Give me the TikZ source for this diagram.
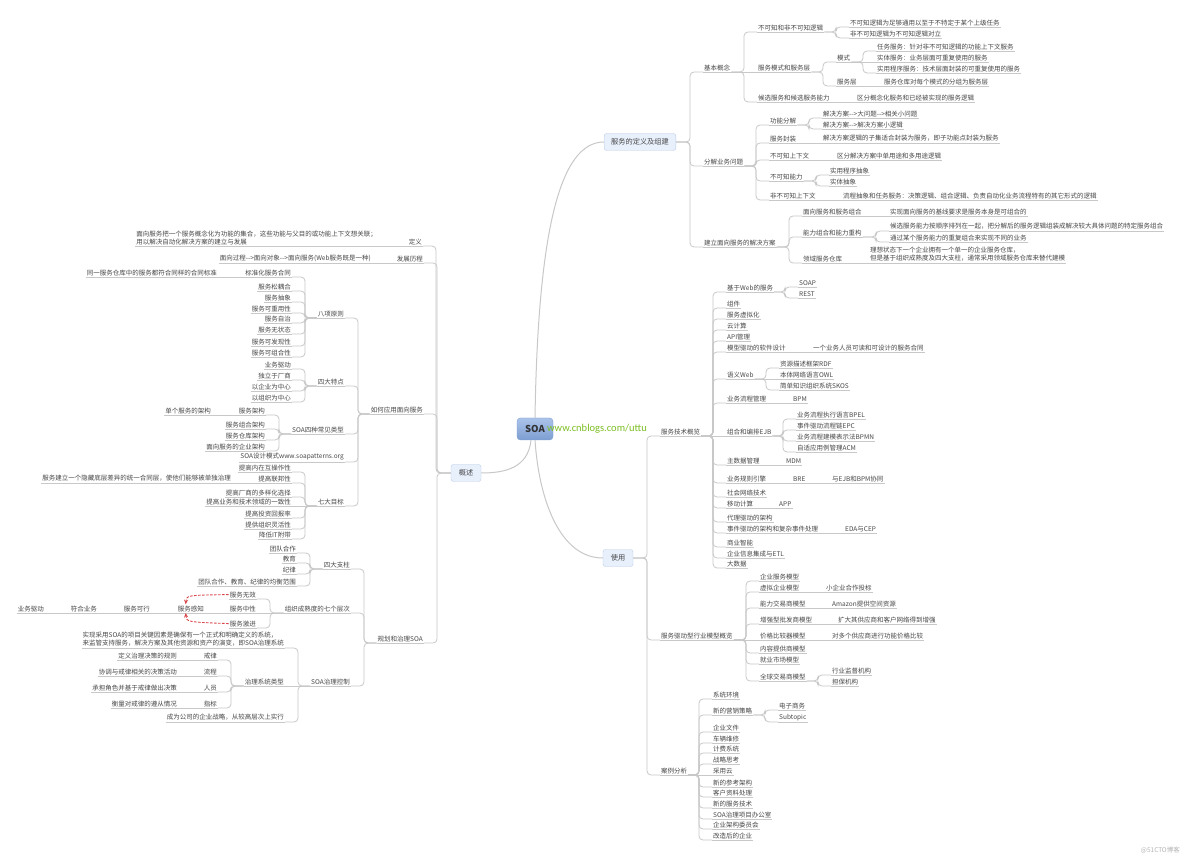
\documentclass[tikz,border=0pt]{standalone}
\usepackage{fontspec}
\setmainfont{Noto Sans CJK SC}
\newfontfamily\urlfont{Carlito}
\usetikzlibrary{calc,arrows.meta}
\definecolor{txtc}{HTML}{474747}
\definecolor{linec}{HTML}{C8C8C8}
\definecolor{boxf}{HTML}{E8F0FC}
\definecolor{boxb}{HTML}{BCCDE6}
\definecolor{redc}{HTML}{D9474B}
\definecolor{urlc}{RGB}{125,190,35}
\definecolor{rtop}{HTML}{ABC3E9}
\definecolor{rbot}{HTML}{7D9ED2}
\definecolor{wmc}{HTML}{B4B4B4}
\tikzset{
  uline/.style={draw=linec, line width=0.8pt},
  tx/.style={font=\fontsize{6.5}{8}\selectfont, text=txtc, inner xsep=1pt, inner ysep=1.2pt,
    append after command={(\tikzlastnode.south west) edge[uline] (\tikzlastnode.south east)}},
  rt/.style={tx, anchor=south west},
  lt/.style={tx, anchor=south east},
  conn/.style={draw=linec, line width=0.8pt, rounded corners=4pt},
  curv/.style={draw=linec, line width=1pt},
  mbox/.style={draw=boxb, fill=boxf, rounded corners=2.5pt, font=\fontsize{7.2}{8}\selectfont,
    text=txtc, minimum height=17pt, minimum width=30pt, inner xsep=7pt, inner ysep=0pt},
  rootbox/.style={draw=rbot, top color=rtop, bottom color=rbot, rounded corners=3.5pt,
    minimum width=36pt, minimum height=22pt, font=\fontsize{9.5}{10}\selectfont\bfseries,
    text={black!80}},
  redarr/.style={draw=redc, dash pattern=on 2.5pt off 1.5pt, line width=0.9pt,
    -{Stealth[length=4.5pt,width=4pt]}}
}
\newcommand\NR[4]{\node[rt] (#1) at (#2,#3+5) {#4};}
\newcommand\NL[4]{\node[lt] (#1) at (#2,#3+5) {#4};}
\newcommand\conR[2]{\draw[conn] (#1) -| ($(#2.south west)+(-13,0)$) -- (#2.south west);}
\newcommand\conL[2]{\draw[conn] (#1) -| ($(#2.south east)+(13,0)$) -- (#2.south east);}
\newcommand\conSR[2]{\draw[conn] (#1.south east) -- (#2.south west);}
\newcommand\conSL[2]{\draw[conn] (#1.south west) -- (#2.south east);}
\newcommand\arr{-\kern0pt-\kern0pt>}
\begin{document}
\begin{tikzpicture}[x=1pt,y=-1pt]
\fill[white] (0,0) rectangle (1184,858);
\useasboundingbox (0,0) rectangle (1184,858);

% ---------- root and main branches
\node[rootbox] (soa) at (535,429) {SOA};
\node[mbox] (b1) at (640,142) {服务的定义及组建};
\node[mbox] (b2) at (618,558) {使用};
\node[mbox] (b3) at (466,473) {概述};
\draw[curv] (soa.north) .. controls (538,230) and (560,142) .. (b1.west);
\draw[curv] (soa.south) .. controls (539,500) and (560,558) .. (b2.west);
\draw[curv] ([xshift=-4pt]soa.south) .. controls (528,468) and (505,473) .. (b3.east);
\node[anchor=west, font=\urlfont\fontsize{10.5}{11}\selectfont, text=urlc, inner sep=0pt] (url) at (547,429) {www.cnblogs.com/uttu};

% ---------- 服务的定义及组建
\NR{jb}{703}{67}{基本概念}
\NR{fj}{703}{161}{分解业务问题}
\NR{jl}{703}{242}{建立面向服务的解决方案}
\conR{b1.east}{jb} \conR{b1.east}{fj} \conR{b1.east}{jl}

\NR{bk}{757}{27}{不可知和非不可知逻辑}
\NR{bk1}{849}{22}{不可知逻辑为足够通用以至于不特定于某个上级任务}
\NR{bk2}{849}{33}{非不可知逻辑为不可知逻辑对立}
\NR{ms}{757}{67}{服务模式和服务层}
\NR{msa}{836}{57}{模式}
\NR{msa1}{876}{46}{任务服务：针对非不可知逻辑的功能上下文服务}
\NR{msa2}{876}{57}{实体服务：业务层面可重复使用的服务}
\NR{msa3}{876}{68}{实用程序服务：技术层面封装的可重复使用的服务}
\NR{msb}{836}{81}{服务层}
\NR{msb1}{883}{81}{服务仓库对每个模式的分组为服务层}
\NR{hx}{757}{97}{候选服务和候选服务能力}
\NR{hx1}{856}{97}{区分概念化服务和已经被实现的服务逻辑}
\conR{jb.south east}{bk} \conSR{jb}{ms} \conR{jb.south east}{hx}
\conR{bk.south east}{bk1} \conR{bk.south east}{bk2}
\conR{ms.south east}{msa} \conR{ms.south east}{msb}
\conR{msa.south east}{msa1} \conSR{msa}{msa2} \conR{msa.south east}{msa3}
\conSR{msb}{msb1} \conSR{hx}{hx1}

\NR{gn}{769}{120}{功能分解}
\NR{gn1}{822}{113}{解决方案\arr 大问题\arr 相关小问题}
\NR{gn2}{822}{124}{解决方案\arr 解决方案小逻辑}
\NR{fz}{769}{138}{服务封装}
\NR{fz1}{822}{138}{解决方案逻辑的子集适合封装为服务，即子功能点封装为服务}
\NR{bs}{769}{155}{不可知上下文}
\NR{bs1}{836}{155}{区分解决方案中单用途和多用途逻辑}
\NR{bn}{769}{176}{不可知能力}
\NR{bn1}{829}{170}{实用程序抽象}
\NR{bn2}{829}{181}{实体抽象}
\NR{fs}{769}{195}{非不可知上下文}
\NR{fs1}{842}{195}{流程抽象和任务服务：决策逻辑、组合逻辑、负责自动化业务流程特有的其它形式的逻辑}
\conR{fj.south east}{gn} \conR{fj.south east}{fz} \conR{fj.south east}{bs}
\conR{fj.south east}{bn} \conR{fj.south east}{fs}
\conR{gn.south east}{gn1} \conR{gn.south east}{gn2}
\conSR{fz}{fz1} \conSR{bs}{bs1}
\conR{bn.south east}{bn1} \conR{bn.south east}{bn2}
\conSR{fs}{fs1}

\NR{mx}{802}{211}{面向服务和服务组合}
\NR{mx1}{889}{211}{实现面向服务的基线要求是服务本身是可组合的}
\NR{nl}{802}{232}{能力组合和能力重构}
\NR{nl1}{889}{226}{候选服务能力按顺序排列在一起，把分解后的服务逻辑组装成解决较大具体问题的特定服务组合}
\NR{nl2}{889}{237}{通过某个服务能力的重复组合来实现不同的业务}
\NR{ly}{802}{258}{领域服务仓库}
\node[rt, align=left] (ly1) at (869,263) {理想状态下一个企业拥有一个单一的企业服务仓库，\\但是基于组织成熟度及四大支柱，通常采用领域服务仓库来替代建模};
\conR{jl.south east}{mx} \conR{jl.south east}{nl} \conR{jl.south east}{ly}
\conSR{mx}{mx1}
\conR{nl.south east}{nl1} \conR{nl.south east}{nl2}
\conSR{ly}{ly1}

% ---------- 使用
\NR{js}{660}{431}{服务技术概览}
\NR{qd}{660}{635}{服务驱动型行业模型概览}
\NR{al}{660}{770}{案例分析}
\conR{b2.east}{js} \conR{b2.east}{qd} \conR{b2.east}{al}

\NR{wb}{726}{287}{基于Web的服务}
\NR{wb1}{798}{282}{SOAP}
\NR{wb2}{798}{293}{REST}
\NR{zj}{726}{303}{组件}
\NR{xn}{726}{314}{服务虚拟化}
\NR{yj}{726}{325}{云计算}
\NR{api}{726}{336}{API管理}
\NR{md}{726}{347}{模型驱动的软件设计}
\NR{md1}{812}{347}{一个业务人员可读和可设计的服务合同}
\NR{yy}{726}{374}{语义Web}
\NR{yy1}{779}{363}{资源描述框架RDF}
\NR{yy2}{779}{374}{本体网络语言OWL}
\NR{yy3}{779}{385}{简单知识组织系统SKOS}
\NR{bp}{726}{398}{业务流程管理}
\NR{bp1}{792}{398}{BPM}
\NR{zh}{726}{431}{组合和编排EJB}
\NR{zh1}{796}{414}{业务流程执行语言BPEL}
\NR{zh2}{796}{425}{事件驱动流程链EPC}
\NR{zh3}{796}{436}{业务流程建模表示法BPMN}
\NR{zh4}{796}{447}{自适应用例管理ACM}
\NR{zs}{726}{460}{主数据管理}
\NR{zs1}{785}{460}{MDM}
\NR{gz}{726}{478}{业务规则引擎}
\NR{gz1}{792}{478}{BRE}
\NR{gz2}{831}{478}{与EJB和BPM协同}
\NR{sh}{726}{492}{社会网络技术}
\NR{yd}{726}{503}{移动计算}
\NR{yd1}{778}{503}{APP}
\NR{dl}{726}{517}{代理驱动的架构}
\NR{sj}{726}{528}{事件驱动的架构和复杂事件处理}
\NR{sj1}{844}{528}{EDA与CEP}
\NR{sy}{726}{542}{商业智能}
\NR{qy}{726}{553}{企业信息集成与ETL}
\NR{ds}{726}{563}{大数据}
\foreach \c in {wb,zj,xn,yj,api,md,yy,bp,zs,gz,sh,yd,dl,sj,sy,qy,ds} {\conR{js.south east}{\c}}
\conSR{js}{zh}
\conR{wb.south east}{wb1} \conR{wb.south east}{wb2}
\conSR{md}{md1}
\conR{yy.south east}{yy1} \conSR{yy}{yy2} \conR{yy.south east}{yy3}
\conSR{bp}{bp1}
\foreach \c in {zh1,zh2,zh3,zh4} {\conR{zh.south east}{\c}}
\conSR{zs}{zs1} \conSR{gz}{gz1} \conSR{gz1}{gz2}
\conSR{yd}{yd1} \conSR{sj}{sj1}

\NR{q1}{759}{576}{企业服务模型}
\NR{q2}{759}{587}{虚拟企业模型}
\NR{q2a}{825}{587}{小企业合作投标}
\NR{q3}{759}{603}{能力交易商模型}
\NR{q3a}{831}{603}{Amazon提供空间资源}
\NR{q4}{759}{619}{增强型批发商模型}
\NR{q4a}{837}{619}{扩大其供应商和客户网络得到增强}
\NR{q5}{759}{635}{价格比较器模型}
\NR{q5a}{831}{635}{对多个供应商进行功能价格比较}
\NR{q6}{759}{648}{内容提供商模型}
\NR{q7}{759}{659}{就业市场模型}
\NR{q8}{759}{676}{全球交易商模型}
\NR{q8a}{831}{670}{行业监督机构}
\NR{q8b}{831}{681}{担保机构}
\foreach \c in {q1,q2,q3,q4,q6,q7,q8} {\conR{qd.south east}{\c}}
\conSR{qd}{q5}
\conSR{q2}{q2a} \conSR{q3}{q3a} \conSR{q4}{q4a} \conSR{q5}{q5a}
\conR{q8.south east}{q8a} \conR{q8.south east}{q8b}

\NR{a1}{712}{694}{系统环境}
\NR{a2}{712}{710}{新的营销策略}
\NR{a2a}{778}{705}{电子商务}
\NR{a2b}{778}{717}{Subtopic}
\NR{a3}{712}{727}{企业文件}
\NR{a4}{712}{738}{车辆维修}
\NR{a5}{712}{748}{计费系统}
\NR{a6}{712}{759}{战略思考}
\NR{a7}{712}{770}{采用云}
\NR{a8}{712}{782}{新的参考架构}
\NR{a9}{712}{792}{客户资料处理}
\NR{a10}{712}{803}{新的服务技术}
\NR{a11}{712}{814}{SOA治理项目办公室}
\NR{a12}{712}{824}{企业架构委员会}
\NR{a13}{712}{835}{改造后的企业}
\foreach \c in {a1,a2,a3,a4,a5,a6,a8,a9,a10,a11,a12,a13} {\conR{al.south east}{\c}}
\conSR{al}{a7}
\conR{a2.south east}{a2a} \conR{a2.south east}{a2b}

% ---------- 概述
\NL{dy}{423}{241}{定义}
\node[lt, align=left] (dy1) at (378,246) {面向服务把一个服务概念化为功能的集合，这些功能与父目的或功能上下文想关联；\\用以解决自动化解决方案的建立与发展};
\NL{fc}{424}{258}{发展历程}
\NL{fc1}{372}{258}{面向过程\arr 面向对象\arr 面向服务(Web服务既是一种)}
\NL{ry}{424}{409}{如何应用面向服务}
\NL{gh}{424}{638}{规划和治理SOA}
\conL{b3.west}{dy} \conL{b3.west}{fc} \conL{b3.west}{ry} \conL{b3.west}{gh}
\conSL{dy}{dy1} \conSL{fc}{fc1}

\NL{bx}{345}{313}{八项原则}
\NL{bx1}{292}{272}{标准化服务合同}
\NL{bx1a}{218}{272}{同一服务仓库中的服务都符合同样的合同标准}
\NL{bx2}{292}{286}{服务松耦合}
\NL{bx3}{292}{297}{服务抽象}
\NL{bx4}{292}{308}{服务可重用性}
\NL{bx5}{292}{318}{服务自治}
\NL{bx6}{292}{329}{服务无状态}
\NL{bx7}{292}{341}{服务可发现性}
\NL{bx8}{292}{352}{服务可组合性}
\foreach \c in {bx1,bx2,bx3,bx4,bx5,bx6,bx7,bx8} {\conL{bx.south west}{\c}}
\conSL{bx1}{bx1a}

\NL{sd}{345}{381}{四大特点}
\NL{sd1}{292}{364}{业务驱动}
\NL{sd2}{292}{375}{独立于厂商}
\NL{sd3}{292}{386}{以企业为中心}
\NL{sd4}{292}{397}{以组织为中心}
\foreach \c in {sd1,sd2,sd3,sd4} {\conL{sd.south west}{\c}}

\NL{lx}{345}{429}{SOA四种常见类型}
\NL{lx1}{266}{410}{服务架构}
\NL{lx1a}{212}{410}{单个服务的架构}
\NL{lx2}{266}{424}{服务组合架构}
\NL{lx3}{266}{435}{服务仓库架构}
\NL{lx4}{266}{446}{面向服务的企业架构}
\foreach \c in {lx1,lx2,lx3,lx4} {\conL{lx.south west}{\c}}
\conSL{lx1}{lx1a}

\NL{ms2}{345}{457}{SOA设计模式www.soapatterns.org}

\NL{mb}{345}{501}{七大目标}
\NL{mb1}{292}{467}{提高内在互操作性}
\NL{mb2}{292}{478}{提高联邦性}
\NL{mb2a}{232}{478}{服务建立一个隐藏底层差异的统一合同层，使他们能够被单独治理}
\NL{mb3}{292}{492}{提高厂商的多样化选择}
\NL{mb4}{292}{501}{提高业务和技术领域的一致性}
\NL{mb5}{292}{513}{提高投资回报率}
\NL{mb6}{292}{524}{提供组织灵活性}
\NL{mb7}{292}{534}{降低IT附带}
\foreach \c in {mb1,mb2,mb3,mb5,mb6,mb7} {\conL{mb.south west}{\c}}
\conSL{mb}{mb4} \conSL{mb2}{mb2a}
\foreach \c in {bx,sd,lx,ms2,mb} {\conL{ry.south west}{\c}}

\NL{zz}{351}{564}{四大支柱}
\NL{zz1}{297}{548}{团队合作}
\NL{zz2}{297}{558}{教育}
\NL{zz3}{297}{569}{纪律}
\NL{zz4}{297}{581}{团队合作、教育、纪律的均衡范围}
\foreach \c in {zz1,zz2,zz3,zz4} {\conL{zz.south west}{\c}}

\NL{cs}{351}{608}{组织成熟度的七个层次}
\NL{cs1}{257}{594}{服务无效}
\NL{cs2}{257}{608}{服务中性}
\NL{cs3}{257}{623}{服务激进}
\NL{cs2a}{205}{608}{服务感知}
\NL{cs2b}{151}{608}{服务可行}
\NL{cs2c}{98}{608}{符合业务}
\NL{cs2d}{45}{608}{业务驱动}
\conL{cs.south west}{cs1} \conSL{cs}{cs2} \conL{cs.south west}{cs3}
\conSL{cs2}{cs2a} \conSL{cs2a}{cs2b} \conSL{cs2b}{cs2c} \conSL{cs2c}{cs2d}
\draw[redarr] (cs1.west) .. controls ($(cs2a.north west)+(10,-9)$) .. ($(cs2a.north west)+(9,0)$);
\draw[redarr] (cs3.west) .. controls ($(cs2a.south west)+(10,9)$) .. ($(cs2a.south west)+(9,0)$);

\NL{gk}{351}{681}{SOA治理控制}
\node[lt, align=left] (gk1) at (285,648) {实现采用SOA的项目关键因素是确保有一个正式和明确定义的系统，\\来监管支持服务，解决方案及其他资源和资产的演变，即SOA治理系统};
\NL{gk2}{285}{681}{治理系统类型}
\NL{gk2a}{218}{655}{戒律}
\NL{gk2a1}{178}{655}{定义治理决策的规则}
\NL{gk2b}{218}{671}{流程}
\NL{gk2b1}{178}{671}{协调与戒律相关的决策活动}
\NL{gk2c}{218}{687}{人员}
\NL{gk2c1}{178}{687}{承担角色并基于戒律做出决策}
\NL{gk2d}{218}{703}{指标}
\NL{gk2d1}{178}{703}{衡量对戒律的遵从情况}
\NL{gk3}{285}{717}{成为公司的企业战略，从较高层次上实行}
\conL{gk.south west}{gk1} \conSL{gk}{gk2} \conL{gk.south west}{gk3}
\foreach \c in {gk2a,gk2b,gk2c,gk2d} {\conL{gk2.south west}{\c}}
\conSL{gk2a}{gk2a1} \conSL{gk2b}{gk2b1} \conSL{gk2c}{gk2c1} \conSL{gk2d}{gk2d1}
\foreach \c in {zz,cs,gk} {\conL{gh.south west}{\c}}

\node[anchor=east, font=\fontsize{6.5}{7}\selectfont, text=wmc, inner sep=0pt] (wm) at (1180,850) {@51CTO博客};
\end{tikzpicture}
\end{document}
